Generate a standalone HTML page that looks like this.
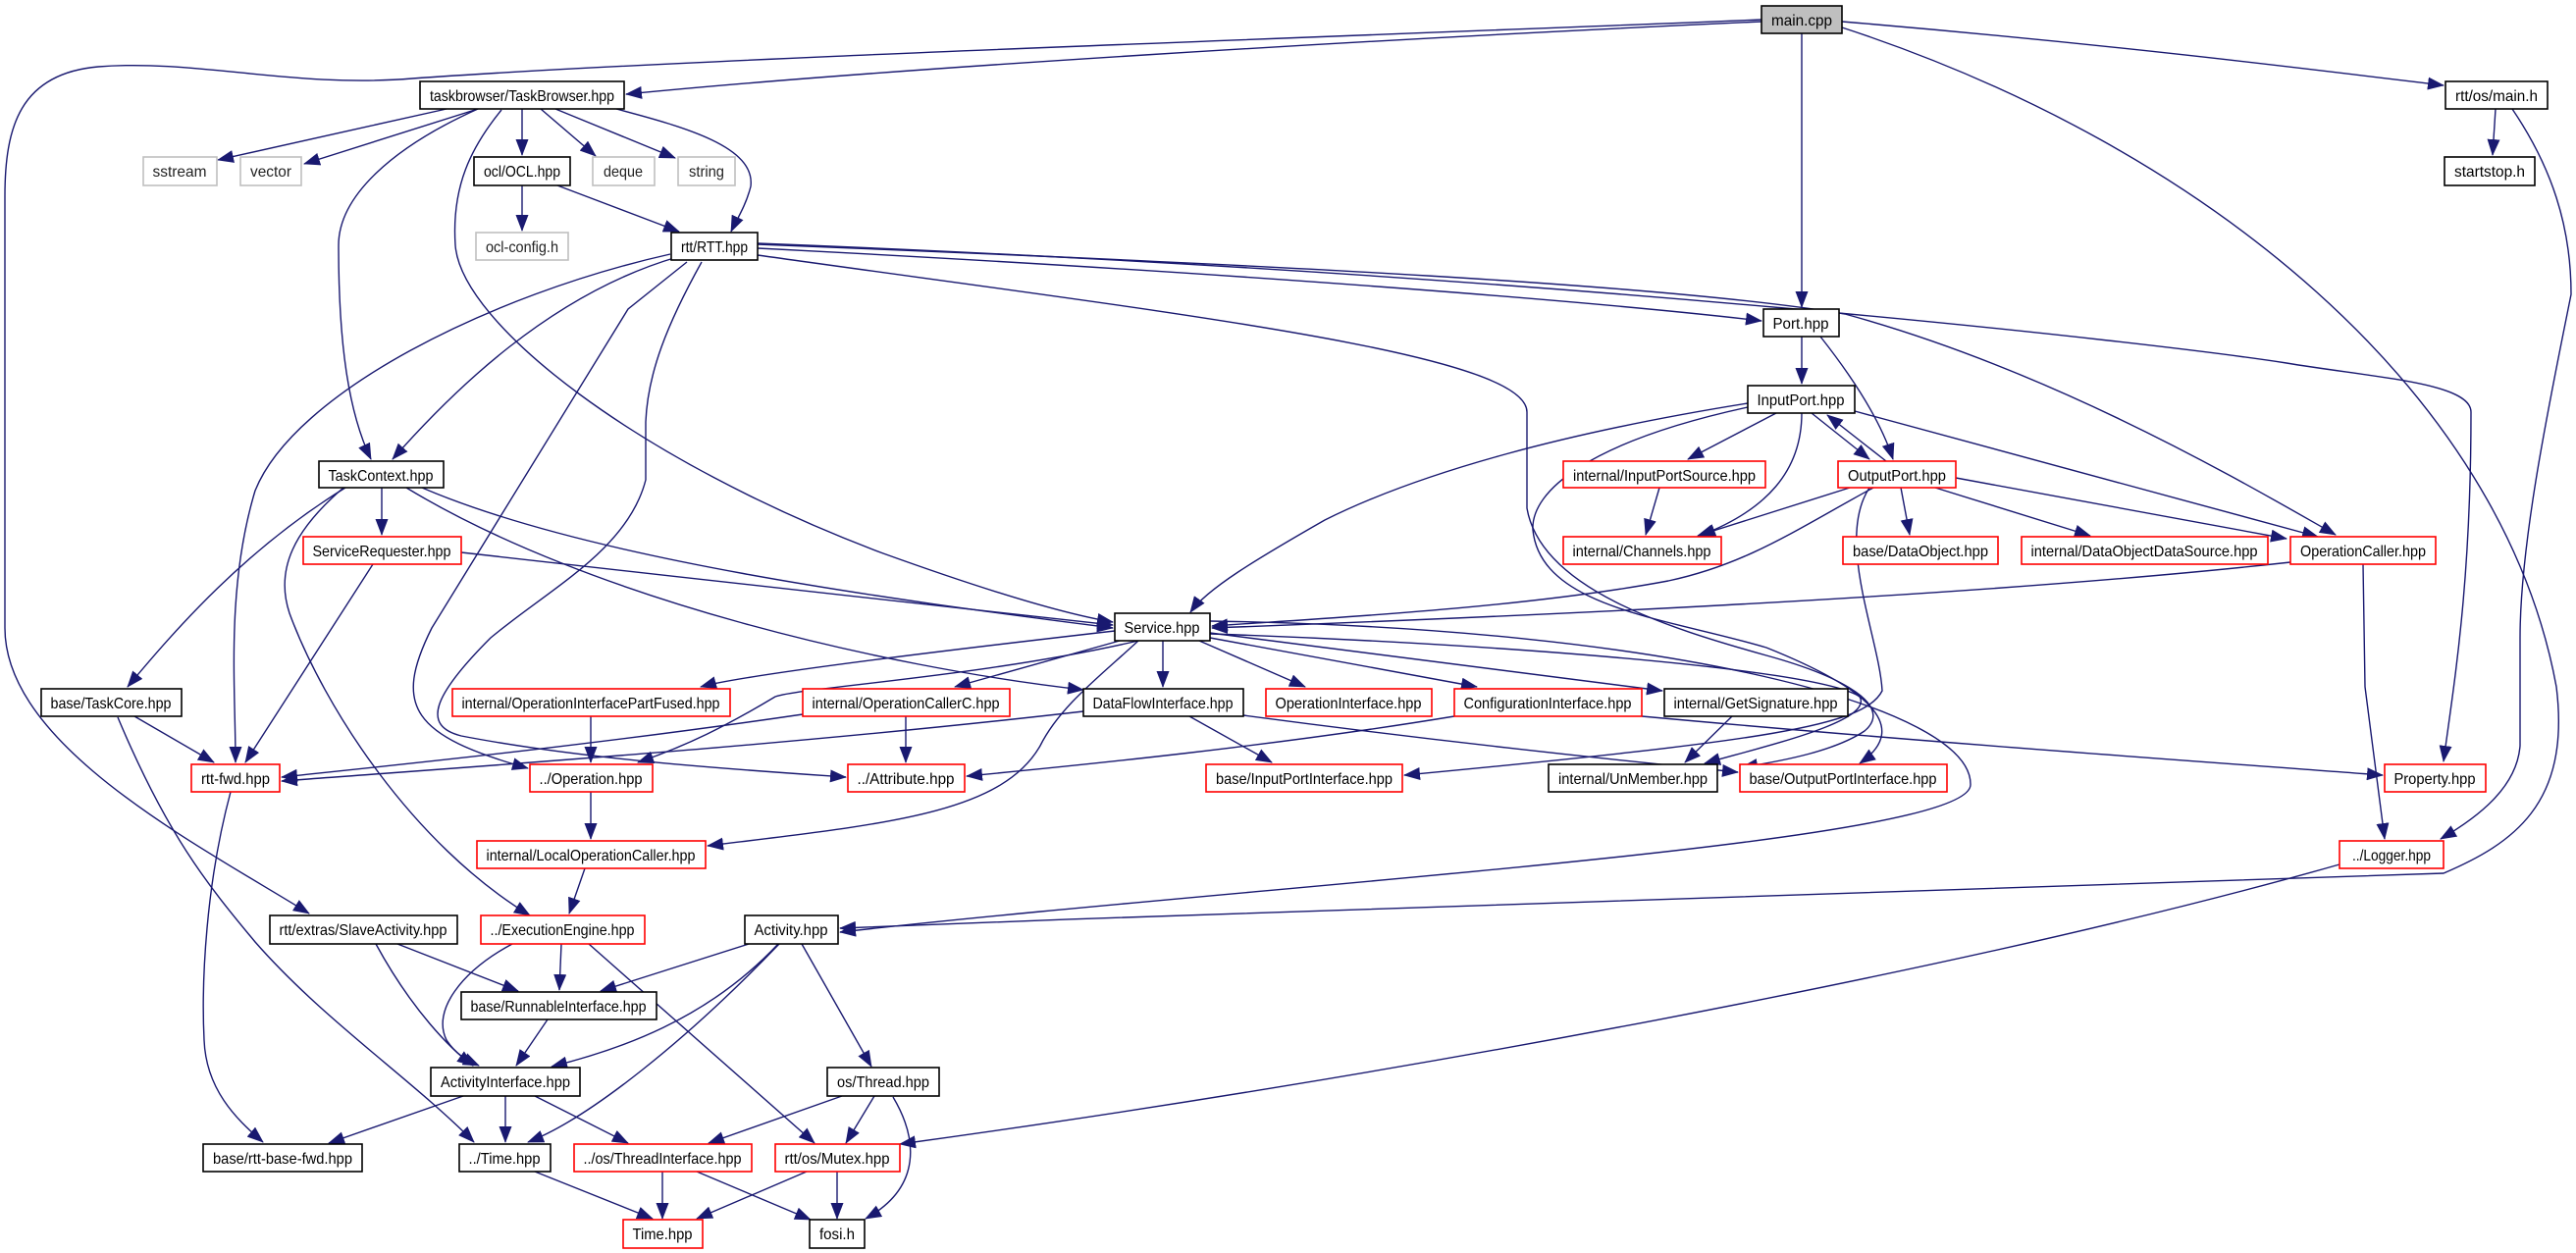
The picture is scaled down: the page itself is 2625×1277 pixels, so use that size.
<!DOCTYPE html>
<html><head><meta charset="utf-8"><style>
html,body{margin:0;padding:0;background:#fff;}
svg{display:block;}
text{font-family:"Liberation Sans",sans-serif;font-size:16px;fill:#000;text-anchor:middle;}
.e{fill:none;stroke:#191970;stroke-width:1.4;marker-end:url(#a);}
.b{fill:#fff;stroke:#000;stroke-width:1.6;}
.r{fill:#fff;stroke:#ff0000;stroke-width:1.6;}
.g{fill:#fff;stroke:#bfbfbf;stroke-width:1.6;}
</style></head><body>
<svg width="2625" height="1277" viewBox="0 0 2625 1277" xmlns="http://www.w3.org/2000/svg">
<defs><marker id="a" markerUnits="userSpaceOnUse" markerWidth="17" markerHeight="13" refX="16" refY="6.5" orient="auto"><path d="M0,0 L17,6.5 L0,13 z" fill="#191970"/></marker></defs>
<g>
<path class="e" d="M1795,22 C1400,40 900,70 638,96"/>
<path class="e" d="M1795,20 C1300,40 700,60 420,80 C300,90 200,60 100,68 C20,75 5,130 5,200 L5,640 C5,760 200,860 315,931"/>
<path class="e" d="M1836,34 L1836,313"/>
<path class="e" d="M1877,22 C2150,45 2350,70 2490,87"/>
<path class="e" d="M1877,28 C2250,150 2550,400 2605,700 C2620,820 2560,860 2490,890 C2200,900 1500,920 856,946"/>
<path class="e" d="M2543,111 L2540,158"/>
<path class="e" d="M2560,111 C2600,170 2620,230 2620,300 C2600,400 2568,550 2568,650 L2568,760 C2565,800 2530,830 2487,855"/>
<path class="e" d="M455,111 L222,163"/>
<path class="e" d="M487,111 L310,167"/>
<path class="e" d="M532,111 L532,158"/>
<path class="e" d="M551,111 L607,159"/>
<path class="e" d="M566,111 L688,161"/>
<path class="e" d="M628,111 C700,130 770,150 765,190 C760,210 750,225 745,236"/>
<path class="e" d="M487,111 C400,150 345,200 345,250 C345,350 355,420 378,468"/>
<path class="e" d="M511,112 C480,150 460,190 464,250 C470,330 650,470 900,564 C1000,600 1080,625 1134,634"/>
<path class="e" d="M532,189 L532,235"/>
<path class="e" d="M568,189 L692,236"/>
<path class="e" d="M772,253 C1300,280 1650,310 1795,327"/>
<path class="e" d="M772,249 C1300,270 1700,290 1880,320 C2100,380 2300,500 2380,545"/>
<path class="e" d="M772,248 C1600,280 2200,350 2330,370 C2420,385 2518,390 2518,420 C2518,600 2500,700 2490,776"/>
<path class="e" d="M772,260 C1200,320 1556,360 1556,420 L1556,518 C1570,600 1700,640 1800,668 C1880,690 1930,720 1900,745 C1870,765 1820,775 1775,782"/>
<path class="e" d="M690,262 C560,300 460,400 400,468"/>
<path class="e" d="M683,259 C500,300 300,400 260,500 C230,600 240,700 240,777"/>
<path class="e" d="M700,267 L640,315 L440,640 C400,720 420,750 538,783"/>
<path class="e" d="M715,267 C680,330 660,380 658,430 L658,489 C640,560 560,600 500,650 C440,710 430,740 470,750 C600,775 760,785 862,792"/>
<path class="e" d="M1836,343 L1836,391"/>
<path class="e" d="M1855,343 C1900,400 1920,440 1929,468"/>
<path class="e" d="M1846,421 L1905,468"/>
<path class="e" d="M1922,470 L1862,423"/>
<path class="e" d="M1810,421 L1720,468"/>
<path class="e" d="M1836,421 C1836,480 1800,520 1732,546"/>
<path class="e" d="M1890,419 L2362,547"/>
<path class="e" d="M1781,411 C1600,440 1450,480 1350,530 C1280,570 1230,600 1213,624"/>
<path class="e" d="M1781,415 C1620,450 1560,500 1562,540 C1570,620 1700,630 1800,660 C1900,700 1950,740 1895,778"/>
<path class="e" d="M1691,497 L1677,545"/>
<path class="e" d="M1885,497 L1730,546"/>
<path class="e" d="M1937,497 L1946,545"/>
<path class="e" d="M1972,497 L2130,546"/>
<path class="e" d="M1993,487 L2330,549"/>
<path class="e" d="M1909,497 C1830,540 1780,575 1700,592 C1550,620 1350,630 1235,638"/>
<path class="e" d="M1905,497 C1870,550 1915,650 1918,704 C1900,740 1800,755 1431,790"/>
<path class="e" d="M2334,573 C2000,610 1500,630 1235,640"/>
<path class="e" d="M2408,575 L2410,700 L2430,855"/>
<path class="e" d="M352,497 C250,560 180,640 130,700"/>
<path class="e" d="M389,497 L389,545"/>
<path class="e" d="M430,497 C600,570 900,610 1134,640"/>
<path class="e" d="M414,497 C600,610 900,680 1104,703"/>
<path class="e" d="M350,497 C300,540 280,580 295,625 C330,720 420,860 540,933"/>
<path class="e" d="M470,563 C700,590 1000,620 1134,637"/>
<path class="e" d="M380,575 L250,777"/>
<path class="e" d="M137,730 L218,777"/>
<path class="e" d="M120,731 C170,850 210,900 260,960 C330,1040 420,1100 483,1164"/>
<path class="e" d="M235,807 C210,900 205,1000 208,1060 C210,1110 240,1140 268,1164"/>
<path class="e" d="M1136,643 C900,670 750,690 714,700"/>
<path class="e" d="M1160,653 C1000,690 820,700 790,710 C740,740 700,760 650,777"/>
<path class="e" d="M1141,653 L973,700"/>
<path class="e" d="M1185,653 L1185,700"/>
<path class="e" d="M1222,653 L1330,700"/>
<path class="e" d="M1233,650 L1505,700"/>
<path class="e" d="M1233,645 L1694,704"/>
<path class="e" d="M1160,653 C1120,690 1080,720 1060,760 C1020,830 900,840 721,862"/>
<path class="e" d="M1233,633 C1700,640 2010,720 2008,800 C2005,860 1300,900 856,950"/>
<path class="e" d="M1233,646 C1500,655 1850,680 1895,710 C1910,735 1800,760 1737,778"/>
<path class="e" d="M923,730 L923,777"/>
<path class="e" d="M818,728 C600,760 400,780 287,792"/>
<path class="e" d="M1104,725 C800,760 500,780 287,796"/>
<path class="e" d="M1212,730 L1296,777"/>
<path class="e" d="M1267,729 C1500,760 1700,780 1771,787"/>
<path class="e" d="M602,730 L602,777"/>
<path class="e" d="M1482,730 C1300,760 1100,780 985,791"/>
<path class="e" d="M1673,730 C2000,760 2300,780 2428,790"/>
<path class="e" d="M1765,730 L1717,777"/>
<path class="e" d="M602,807 L602,855"/>
<path class="e" d="M596,885 L580,931"/>
<path class="e" d="M405,962 L528,1010"/>
<path class="e" d="M383,962 C420,1030 460,1070 482,1086"/>
<path class="e" d="M572,962 L570,1009"/>
<path class="e" d="M522,962 C470,990 440,1030 455,1060 C465,1075 475,1080 488,1086"/>
<path class="e" d="M600,962 C700,1050 780,1120 830,1165"/>
<path class="e" d="M763,962 L612,1010"/>
<path class="e" d="M793,962 C720,1040 630,1070 562,1087"/>
<path class="e" d="M794,962 C700,1060 600,1140 538,1164"/>
<path class="e" d="M817,962 L888,1087"/>
<path class="e" d="M558,1039 L526,1086"/>
<path class="e" d="M472,1117 L335,1165"/>
<path class="e" d="M515,1117 L515,1164"/>
<path class="e" d="M545,1117 L640,1165"/>
<path class="e" d="M858,1117 L722,1165"/>
<path class="e" d="M891,1117 L862,1165"/>
<path class="e" d="M910,1118 C935,1160 940,1210 882,1242"/>
<path class="e" d="M545,1194 L665,1242"/>
<path class="e" d="M675,1194 L675,1242"/>
<path class="e" d="M710,1194 L826,1243"/>
<path class="e" d="M822,1194 L710,1242"/>
<path class="e" d="M853,1194 L853,1242"/>
<path class="e" d="M2384,881 C2000,990 1400,1100 917,1166"/>
</g>
<g>
<rect x="1795" y="6" width="82" height="28" fill="#bfbfbf" stroke="#000" stroke-width="1.6"/><text x="1836" y="26" textLength="62" lengthAdjust="spacingAndGlyphs">main.cpp</text>
<rect class="b" x="428" y="83" width="208" height="28"/><text x="532" y="103" textLength="188" lengthAdjust="spacingAndGlyphs">taskbrowser/TaskBrowser.hpp</text>
<rect class="b" x="2492" y="83" width="104" height="28"/><text x="2544" y="103" textLength="84" lengthAdjust="spacingAndGlyphs">rtt/os/main.h</text>
<rect class="g" x="146" y="160" width="75" height="29"/><text x="183" y="180" textLength="55" lengthAdjust="spacingAndGlyphs" style="fill:#222">sstream</text>
<rect class="g" x="245" y="160" width="62" height="29"/><text x="276" y="180" textLength="42" lengthAdjust="spacingAndGlyphs" style="fill:#222">vector</text>
<rect class="b" x="483" y="160" width="98" height="29"/><text x="532" y="180" textLength="78" lengthAdjust="spacingAndGlyphs">ocl/OCL.hpp</text>
<rect class="g" x="604" y="160" width="63" height="29"/><text x="635" y="180" textLength="40" lengthAdjust="spacingAndGlyphs" style="fill:#222">deque</text>
<rect class="g" x="691" y="160" width="58" height="29"/><text x="720" y="180" textLength="36" lengthAdjust="spacingAndGlyphs" style="fill:#222">string</text>
<rect class="b" x="2491" y="160" width="92" height="29"/><text x="2537" y="180" textLength="72" lengthAdjust="spacingAndGlyphs">startstop.h</text>
<rect class="g" x="485" y="237" width="94" height="28"/><text x="532" y="257" textLength="74" lengthAdjust="spacingAndGlyphs" style="fill:#222">ocl-config.h</text>
<rect class="b" x="684" y="237" width="88" height="28"/><text x="728" y="257" textLength="68" lengthAdjust="spacingAndGlyphs">rtt/RTT.hpp</text>
<rect class="b" x="1797" y="315" width="77" height="28"/><text x="1835" y="335" textLength="57" lengthAdjust="spacingAndGlyphs">Port.hpp</text>
<rect class="b" x="1781" y="393" width="109" height="28"/><text x="1835" y="413" textLength="89" lengthAdjust="spacingAndGlyphs">InputPort.hpp</text>
<rect class="b" x="325" y="470" width="127" height="27"/><text x="388" y="490" textLength="107" lengthAdjust="spacingAndGlyphs">TaskContext.hpp</text>
<rect class="r" x="1593" y="470" width="206" height="27"/><text x="1696" y="490" textLength="186" lengthAdjust="spacingAndGlyphs">internal/InputPortSource.hpp</text>
<rect class="r" x="1873" y="470" width="120" height="27"/><text x="1933" y="490" textLength="100" lengthAdjust="spacingAndGlyphs">OutputPort.hpp</text>
<rect class="r" x="309" y="547" width="161" height="28"/><text x="389" y="567" textLength="141" lengthAdjust="spacingAndGlyphs">ServiceRequester.hpp</text>
<rect class="r" x="1593" y="547" width="161" height="28"/><text x="1673" y="567" textLength="141" lengthAdjust="spacingAndGlyphs">internal/Channels.hpp</text>
<rect class="r" x="1878" y="547" width="158" height="28"/><text x="1957" y="567" textLength="138" lengthAdjust="spacingAndGlyphs">base/DataObject.hpp</text>
<rect class="r" x="2060" y="547" width="251" height="28"/><text x="2185" y="567" textLength="231" lengthAdjust="spacingAndGlyphs">internal/DataObjectDataSource.hpp</text>
<rect class="r" x="2334" y="547" width="148" height="28"/><text x="2408" y="567" textLength="128" lengthAdjust="spacingAndGlyphs">OperationCaller.hpp</text>
<rect class="b" x="1136" y="625" width="97" height="28"/><text x="1184" y="645" textLength="77" lengthAdjust="spacingAndGlyphs">Service.hpp</text>
<rect class="b" x="42" y="702" width="143" height="28"/><text x="113" y="722" textLength="123" lengthAdjust="spacingAndGlyphs">base/TaskCore.hpp</text>
<rect class="r" x="461" y="702" width="283" height="28"/><text x="602" y="722" textLength="263" lengthAdjust="spacingAndGlyphs">internal/OperationInterfacePartFused.hpp</text>
<rect class="r" x="818" y="702" width="211" height="28"/><text x="923" y="722" textLength="191" lengthAdjust="spacingAndGlyphs">internal/OperationCallerC.hpp</text>
<rect class="b" x="1104" y="702" width="163" height="28"/><text x="1185" y="722" textLength="143" lengthAdjust="spacingAndGlyphs">DataFlowInterface.hpp</text>
<rect class="r" x="1290" y="702" width="169" height="28"/><text x="1374" y="722" textLength="149" lengthAdjust="spacingAndGlyphs">OperationInterface.hpp</text>
<rect class="r" x="1482" y="702" width="191" height="28"/><text x="1577" y="722" textLength="171" lengthAdjust="spacingAndGlyphs">ConfigurationInterface.hpp</text>
<rect class="b" x="1696" y="702" width="187" height="28"/><text x="1789" y="722" textLength="167" lengthAdjust="spacingAndGlyphs">internal/GetSignature.hpp</text>
<rect class="r" x="195" y="779" width="90" height="28"/><text x="240" y="799" textLength="70" lengthAdjust="spacingAndGlyphs">rtt-fwd.hpp</text>
<rect class="r" x="540" y="779" width="125" height="28"/><text x="602" y="799" textLength="105" lengthAdjust="spacingAndGlyphs">../Operation.hpp</text>
<rect class="r" x="864" y="779" width="119" height="28"/><text x="923" y="799" textLength="99" lengthAdjust="spacingAndGlyphs">../Attribute.hpp</text>
<rect class="r" x="1229" y="779" width="200" height="28"/><text x="1329" y="799" textLength="180" lengthAdjust="spacingAndGlyphs">base/InputPortInterface.hpp</text>
<rect class="b" x="1578" y="779" width="172" height="28"/><text x="1664" y="799" textLength="152" lengthAdjust="spacingAndGlyphs">internal/UnMember.hpp</text>
<rect class="r" x="1773" y="779" width="211" height="28"/><text x="1878" y="799" textLength="191" lengthAdjust="spacingAndGlyphs">base/OutputPortInterface.hpp</text>
<rect class="r" x="2430" y="779" width="103" height="28"/><text x="2481" y="799" textLength="83" lengthAdjust="spacingAndGlyphs">Property.hpp</text>
<rect class="r" x="486" y="857" width="233" height="28"/><text x="602" y="877" textLength="213" lengthAdjust="spacingAndGlyphs">internal/LocalOperationCaller.hpp</text>
<rect class="r" x="2384" y="857" width="106" height="28"/><text x="2437" y="877" textLength="80" lengthAdjust="spacingAndGlyphs">../Logger.hpp</text>
<rect class="b" x="275" y="933" width="191" height="29"/><text x="370" y="953" textLength="171" lengthAdjust="spacingAndGlyphs">rtt/extras/SlaveActivity.hpp</text>
<rect class="r" x="490" y="933" width="167" height="29"/><text x="573" y="953" textLength="147" lengthAdjust="spacingAndGlyphs">../ExecutionEngine.hpp</text>
<rect class="b" x="759" y="933" width="95" height="29"/><text x="806" y="953" textLength="75" lengthAdjust="spacingAndGlyphs">Activity.hpp</text>
<rect class="b" x="470" y="1011" width="199" height="28"/><text x="569" y="1031" textLength="179" lengthAdjust="spacingAndGlyphs">base/RunnableInterface.hpp</text>
<rect class="b" x="439" y="1088" width="152" height="29"/><text x="515" y="1108" textLength="132" lengthAdjust="spacingAndGlyphs">ActivityInterface.hpp</text>
<rect class="b" x="843" y="1088" width="114" height="29"/><text x="900" y="1108" textLength="94" lengthAdjust="spacingAndGlyphs">os/Thread.hpp</text>
<rect class="b" x="207" y="1166" width="162" height="28"/><text x="288" y="1186" textLength="142" lengthAdjust="spacingAndGlyphs">base/rtt-base-fwd.hpp</text>
<rect class="b" x="468" y="1166" width="93" height="28"/><text x="514" y="1186" textLength="73" lengthAdjust="spacingAndGlyphs">../Time.hpp</text>
<rect class="r" x="585" y="1166" width="181" height="28"/><text x="675" y="1186" textLength="161" lengthAdjust="spacingAndGlyphs">../os/ThreadInterface.hpp</text>
<rect class="r" x="790" y="1166" width="127" height="28"/><text x="853" y="1186" textLength="107" lengthAdjust="spacingAndGlyphs">rtt/os/Mutex.hpp</text>
<rect class="r" x="635" y="1243" width="81" height="29"/><text x="675" y="1263" textLength="61" lengthAdjust="spacingAndGlyphs">Time.hpp</text>
<rect class="b" x="825" y="1243" width="56" height="29"/><text x="853" y="1263" textLength="36" lengthAdjust="spacingAndGlyphs">fosi.h</text>
</g>
</svg>
</body></html>
